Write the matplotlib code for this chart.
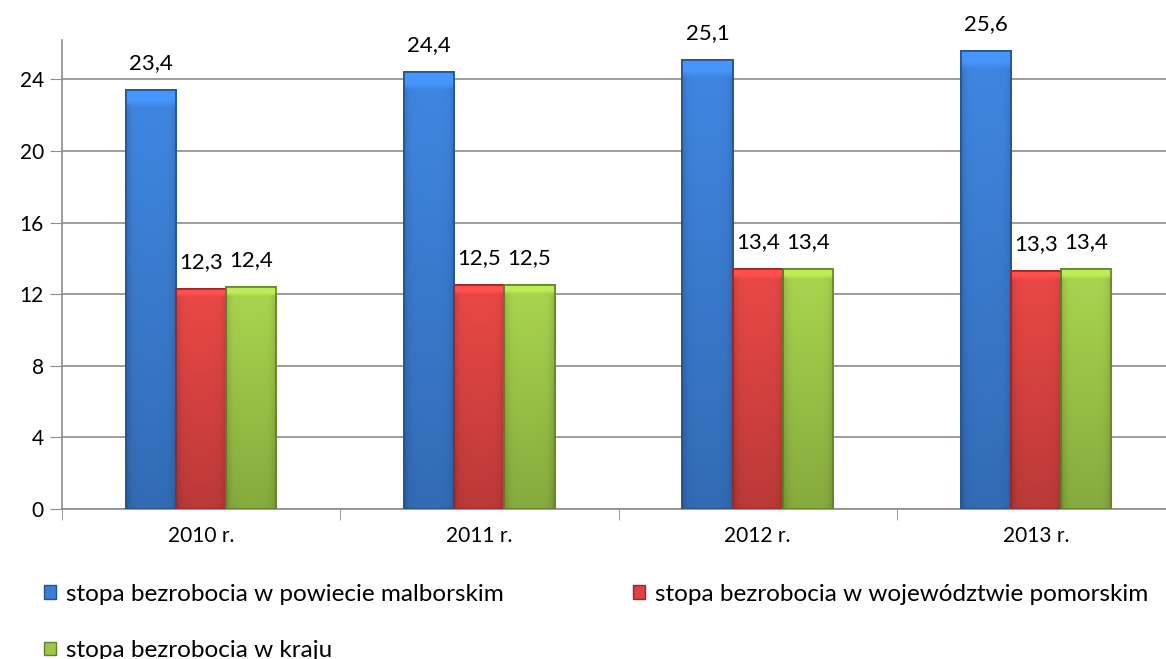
import matplotlib.pyplot as plt
import numpy as np
from matplotlib.patches import Rectangle
from matplotlib.colors import to_rgb

# dane: stopa bezrobocia (%)
lata = ["2010 r.", "2011 r.", "2012 r.", "2013 r."]
powiat = [23.4, 24.4, 25.1, 25.6]
wojewodztwo = [12.3, 12.5, 13.4, 13.3]
kraj = [12.4, 12.5, 13.4, 13.4]
serie = ["stopa bezrobocia w powiecie malborskim",
         "stopa bezrobocia w województwie pomorskim",
         "stopa bezrobocia w kraju"]
yticks = [0, 4, 8, 12, 16, 20, 24]

plt.rcParams['font.family'] = ['Lato', 'DejaVu Sans']

kolory = ["#3b7dd2", "#d94341", "#9dc648"]
krawedzie = ["#24528f", "#962828", "#61842a"]


def cieniowanie(kolor):
    # prosty efekt "szkla": jasniej u gory, ciemniej przy bokach i na dole
    c = np.array(to_rgb(kolor))
    ny, nx = 60, 20
    yy = np.linspace(0, 1, ny)[:, None]      # 0 = gora
    xx = np.linspace(-1, 1, nx)[None, :]
    f = 1.08 - 0.22 * yy - 0.12 * xx**6
    f[:2, :] = 1.2
    img = np.clip(c[None, None, :] * f[:, :, None], 0, 1)
    return img


fig = plt.figure(figsize=(11.66, 6.59), dpi=100)
# obszar wykresu wychodzi poza prawa krawedz (jak w oryginale)
ax = fig.add_axes([62/1166, 1 - 509/659, (1175-62)/1166, (509-40)/659])

x = np.arange(len(lata))
w = 0.18
for i, (vals, kol, kr) in enumerate(zip([powiat, wojewodztwo, kraj], kolory, krawedzie)):
    bars = ax.bar(x + (i-1)*w, vals, w, color=kol, edgecolor=kr, linewidth=1.2,
                  label=serie[i], zorder=3)
    img = cieniowanie(kol)
    for b, v in zip(bars, vals):
        im = ax.imshow(img, extent=(b.get_x(), b.get_x() + b.get_width(), 0, v),
                       aspect="auto", zorder=3.5, interpolation="bilinear")
        im.set_clip_path(b)
        ax.annotate(f"{v:.1f}".replace(".", ","),
                    (b.get_x() + b.get_width()/2, v), xytext=(0, 12),
                    textcoords="offset points", ha="center", va="bottom",
                    fontsize=16, zorder=2,
                    bbox=dict(facecolor="white", edgecolor="none", pad=2))
    for b in bars:
        ax.add_patch(Rectangle((b.get_x(), 0), b.get_width(), b.get_height(),
                               fill=False, edgecolor=kr, linewidth=1.2, zorder=4))

ax.set_xlim(-0.5, len(lata) - 0.5)
ax.set_ylim(0, 26.2)
ax.set_yticks(yticks)
ax.set_yticklabels([str(t) for t in yticks], fontsize=15)
ax.yaxis.grid(True, color="#8c8c8c", linewidth=1.2, zorder=0)
ax.set_axisbelow(True)
ax.tick_params(axis="y", length=9, color="#8c8c8c", pad=4)

ax.set_xticks(x)
ax.set_xticklabels(lata, fontsize=15)
ax.set_xticks(np.arange(-0.5, len(lata)), minor=True)
ax.tick_params(axis="x", which="major", length=0, pad=12)
ax.tick_params(axis="x", which="minor", length=8, color="#8c8c8c")

for s in ["top", "right"]:
    ax.spines[s].set_visible(False)
ax.spines["left"].set_color("#8c8c8c")
ax.spines["bottom"].set_color("#8c8c8c")
ax.spines["left"].set_linewidth(1.2)
ax.spines["bottom"].set_linewidth(1.2)

# kolejnosc wierszami: niebieski, czerwony / zielony
kolejnosc = [0, 2, 1]
uchwyty = [Rectangle((0, 0), 1, 1, facecolor=kolory[k], edgecolor=krawedzie[k]) for k in kolejnosc]
fig.legend(uchwyty, [serie[k] for k in kolejnosc], loc="upper left",
           bbox_to_anchor=(0.038, 0.114),
           ncol=2, frameon=False, fontsize=17.5, handlelength=0.5, handleheight=0.5,
           handletextpad=0.4, columnspacing=5.3, labelspacing=1.45,
           borderaxespad=0, borderpad=0)

fig.savefig("out.png", dpi=100)
